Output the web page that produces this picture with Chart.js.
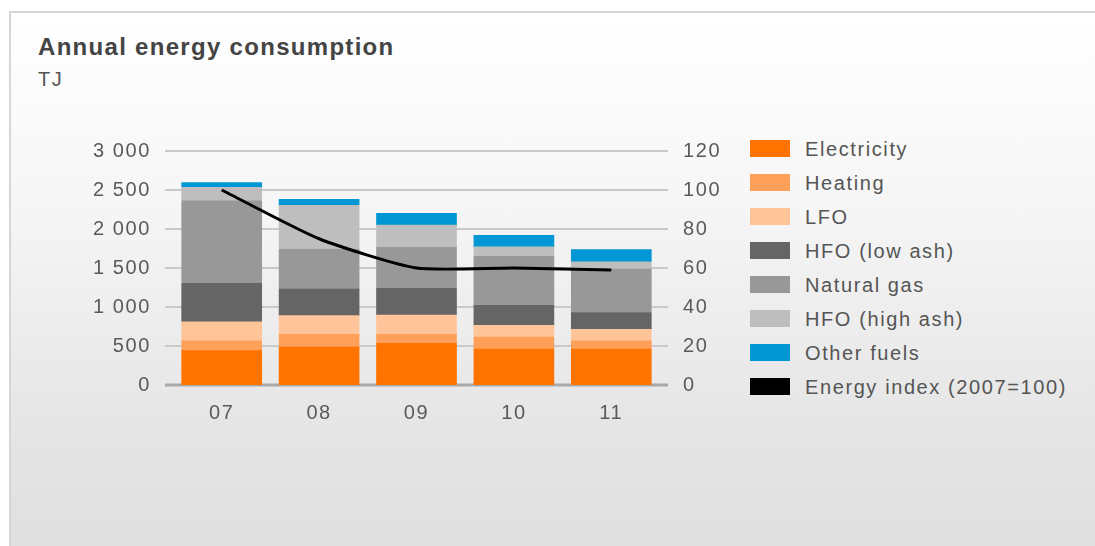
<!DOCTYPE html>
<html>
<head>
<meta charset="utf-8">
<script src="https://cdn.jsdelivr.net/npm/chart.js@4.4.1/dist/chart.umd.min.js"></script>
<style>
  html, body { margin:0; padding:0; background:#fff; }
  body { width:1095px; height:546px; position:relative; overflow:hidden; font-family:"Liberation Sans", Arial, sans-serif; }
  #panel { position:absolute; left:9px; top:11px; width:1090px; height:540px; box-sizing:border-box;
           border-top:2px solid #d6d6d6; border-left:2px solid #d6d6d6;
           background:linear-gradient(#ffffff 0%, #f6f6f6 35%, #e6e6e6 75%, #dfdfdf 100%); }
  #title { position:absolute; left:38px; top:33px; font-size:24px; font-weight:bold; color:#444; letter-spacing:1.3px; }
  #unit  { position:absolute; left:38px; top:68px; font-size:20px; color:#555; letter-spacing:1.5px; }
  #wrap  { position:absolute; left:0; top:0; width:740px; height:546px; }
  #legend { position:absolute; left:750px; top:138px; margin:0; padding:0; list-style:none; }
  #legend li { height:34px; display:flex; align-items:flex-start; font-size:20px; color:#555; letter-spacing:1.6px; }
  #legend .box { width:40px; height:17px; margin-top:2px; margin-right:15px; }
</style>
</head>
<body>
<div id="panel"></div>
<div id="title">Annual energy consumption</div>
<div id="unit">TJ</div>
<div id="wrap"><canvas id="energyChart"></canvas></div>
<ul id="legend"></ul>
<script>
"use strict";

const YEARS = ["07", "08", "09", "10", "11"];

// TJ per fuel, stacked bottom to top
const ELECTRICITY = [440, 485, 535, 460, 460];
const HEATING     = [125, 165, 115, 155, 105];
const LFO         = [245, 240, 245, 150, 150];
const HFO_LOW     = [495, 340, 345, 255, 215];
const NATURAL_GAS = [1055, 510, 525, 630, 555];
const HFO_HIGH    = [175, 565, 285, 120, 95];
const OTHER_FUELS = [60, 75, 150, 150, 155];

// 2007 = 100
const ENERGY_INDEX = [100, 75, 60, 60, 59];

const LEFT_TICKS  = { min:0, max:3000, step:500 };
const RIGHT_TICKS = { min:0, max:120, step:20 };

const FONT = "'Liberation Sans', Arial, sans-serif";
const TEXT = "#5a5a5a";

const fuels = [
  ["Electricity",     ELECTRICITY, "#ff7300"],
  ["Heating",         HEATING,     "#ffa05a"],
  ["LFO",             LFO,         "#ffc499"],
  ["HFO (low ash)",   HFO_LOW,     "#656565"],
  ["Natural gas",     NATURAL_GAS, "#989898"],
  ["HFO (high ash)",  HFO_HIGH,    "#bebebe"],
  ["Other fuels",     OTHER_FUELS, "#0097d4"],
];

const datasets = fuels.map(([label, data, color]) => ({
  type:"bar", label, data, backgroundColor:color, borderWidth:0,
  barThickness:80, yAxisID:"y", order:1
}));
datasets.push({
  type:"line", label:"Energy index (2007=100)", data:ENERGY_INDEX,
  borderColor:"#000", backgroundColor:"#000", borderWidth:3,
  pointRadius:0, tension:0.2, yAxisID:"y2", order:0
});

function spaced(v) { return String(v).replace(/\B(?=(\d{3})+(?!\d))/g, " "); }

// horizontal rules a little wider than the plot, heavier at zero
const rules = {
  id:"rules",
  beforeDraw(chart) { chart.ctx.letterSpacing = "1.6px"; },
  beforeDatasetsDraw(chart) {
    const { ctx, chartArea:a } = chart;
    const y = chart.scales.y;
    ctx.save();
    y.ticks.forEach(t => {
      const py = Math.round(y.getPixelForValue(t.value));
      ctx.strokeStyle = t.value === 0 ? "#a9a9a9" : "#c9c9c9";
      ctx.lineWidth = t.value === 0 ? 3 : 2;
      ctx.beginPath();
      ctx.moveTo(a.left - 8, py);
      ctx.lineTo(a.right + 8, py);
      ctx.stroke();
    });
    ctx.restore();
  }
};

const tickFont = { family:FONT, size:20 };

const chart = new Chart(document.getElementById("energyChart"), {
  data:{ labels:YEARS, datasets },
  options:{
    responsive:true, maintainAspectRatio:false, animation:false,
    layout:{ padding:{ top:151, bottom:121, left:0, right:0 } },
    plugins:{ legend:{ display:false }, tooltip:{ enabled:false } },
    scales:{
      x:{
        stacked:true,
        grid:{ display:false, drawTicks:false }, border:{ display:false },
        ticks:{ font:tickFont, color:TEXT, padding:16 },
        afterFit(s) { s.height = 40; }
      },
      y:{
        stacked:true, position:"left",
        min:LEFT_TICKS.min, max:LEFT_TICKS.max,
        grid:{ display:false, drawTicks:false }, border:{ display:false },
        ticks:{ stepSize:LEFT_TICKS.step, font:tickFont, color:TEXT, padding:22, callback:v => spaced(v) },
        afterFit(s) { s.width = 173; }
      },
      y2:{
        position:"right",
        min:RIGHT_TICKS.min, max:RIGHT_TICKS.max,
        grid:{ display:false, drawTicks:false }, border:{ display:false },
        ticks:{ stepSize:RIGHT_TICKS.step, font:tickFont, color:TEXT, padding:23 },
        afterFit(s) { s.width = 80; }
      }
    }
  },
  plugins:[rules]
});

// legend list built from the chart's datasets
const legend = document.getElementById("legend");
chart.data.datasets.forEach(ds => {
  const li = document.createElement("li");
  const box = document.createElement("span");
  box.className = "box";
  box.style.background = ds.backgroundColor;
  li.appendChild(box);
  li.appendChild(document.createTextNode(ds.label));
  legend.appendChild(li);
});
</script>
</body>
</html>
